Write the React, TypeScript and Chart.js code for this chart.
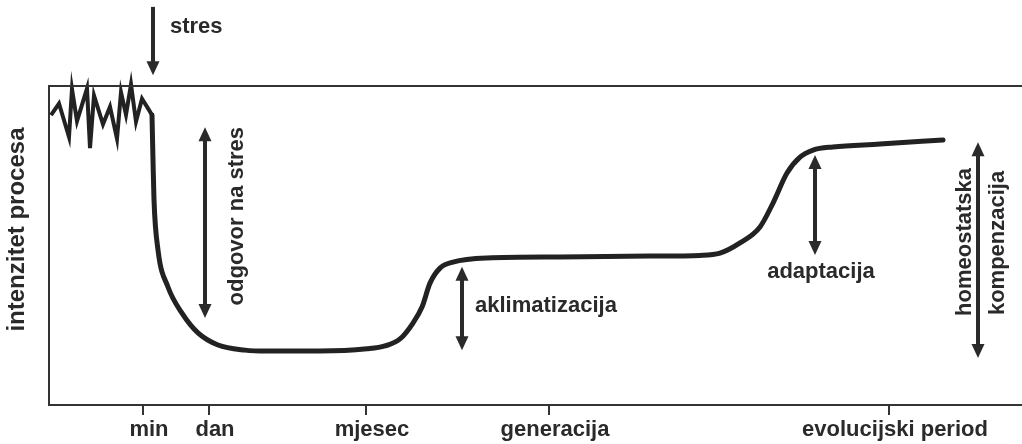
import React, { useEffect, useRef } from "react";
import { Chart, registerables } from "chart.js";

Chart.register(...registerables);

// time index (abstract units along the x axis) and process intensity (0-100)
const noiseX = [2, 10, 20, 23, 28, 38, 41, 45, 54, 61, 68, 72, 77, 82, 87, 93, 99, 103];
const noiseY = [90.9, 94.5, 84.0, 99.0, 89.0, 99.2, 80.5, 97.0, 88.0, 93.5, 83.5, 98.0, 91.0, 100.5, 88.8, 96.0, 93.0, 90.9];

const curveX = [103, 104, 105, 109, 119, 133, 149, 169, 196, 218, 271, 318, 336, 351, 364, 373, 381, 391, 404, 438, 511, 601, 651, 671, 691, 711, 724, 738, 751, 764, 784, 831, 894];
const curveY = [90.9, 76.8, 64.3, 48.6, 37.0, 28.8, 22.6, 18.8, 17.2, 16.9, 16.9, 17.6, 18.5, 20.7, 25.7, 30.7, 38.2, 42.9, 44.8, 46.1, 46.4, 46.7, 46.9, 47.6, 50.8, 55.8, 63.3, 72.7, 77.7, 79.9, 80.9, 81.8, 83.1];

const tickValues = [94, 160, 317, 500, 840];
const tickLabels = ["min", "dan", "mjesec", "generacija", "evolucijski period"];

const yTitle = "intenzitet procesa";

// annotation arrows: x, from y, to y, head at start, head at end
const arrowX = [104, 156, 413, 766, 929];
const arrowFrom = [124.8, 87.1, 43.3, 78.4, 82.4];
const arrowTo = [103.4, 27.3, 17.2, 47.0, 14.7];
const arrowHeadStart = [false, true, true, true, true];
const arrowHeadEnd = [true, true, true, true, true];

// annotation texts
const noteText = ["stres", "odgovor na stres", "aklimatizacija", "adaptacija", "homeostatska", "kompenzacija"];
const noteX = [121, 188, 426, 772, 916, 949];
const noteY = [118.5, 59.2, 31.0, 41.7, 51.1, 50.8];
const noteRotated = [false, true, false, false, true, true];
const noteAlign = ["left", "center", "left", "center", "center", "center"];

const INK = "#2a2a2a";
const FONT = '"Liberation Sans", Arial, Helvetica, sans-serif';

const annotationPlugin = {
  id: "annotations",
  beforeDatasetsDraw(chart: any) {
    chart.ctx.miterLimit = 14;
  },
  afterDraw(chart: any) {
    const { ctx, chartArea, scales } = chart;
    const xs = scales.x;
    const ys = scales.y;
    ctx.save();
    // top frame line
    ctx.strokeStyle = "#333";
    ctx.lineWidth = 2;
    ctx.beginPath();
    ctx.moveTo(chartArea.left - 1, chartArea.top);
    ctx.lineTo(chartArea.right, chartArea.top);
    ctx.stroke();

    // arrows
    ctx.fillStyle = INK;
    ctx.strokeStyle = INK;
    const headLen = 14;
    const headHalf = 6.5;
    for (let i = 0; i < arrowX.length; i++) {
      const px = xs.getPixelForValue(arrowX[i]);
      const p1 = ys.getPixelForValue(arrowFrom[i]);
      const p2 = ys.getPixelForValue(arrowTo[i]);
      const dir = p2 > p1 ? 1 : -1;
      const s = arrowHeadStart[i] ? p1 + dir * (headLen - 2) : p1;
      const e = arrowHeadEnd[i] ? p2 - dir * (headLen - 2) : p2;
      ctx.lineWidth = 4;
      ctx.lineCap = "butt";
      ctx.beginPath();
      ctx.moveTo(px, s);
      ctx.lineTo(px, e);
      ctx.stroke();
      if (arrowHeadEnd[i]) {
        ctx.beginPath();
        ctx.moveTo(px, p2);
        ctx.lineTo(px - headHalf, p2 - dir * headLen);
        ctx.lineTo(px + headHalf, p2 - dir * headLen);
        ctx.closePath();
        ctx.fill();
      }
      if (arrowHeadStart[i]) {
        ctx.beginPath();
        ctx.moveTo(px, p1);
        ctx.lineTo(px - headHalf, p1 + dir * headLen);
        ctx.lineTo(px + headHalf, p1 + dir * headLen);
        ctx.closePath();
        ctx.fill();
      }
    }

    // notes
    ctx.font = `bold 22px ${FONT}`;
    ctx.textBaseline = "middle";
    for (let i = 0; i < noteText.length; i++) {
      const px = xs.getPixelForValue(noteX[i]);
      const py = ys.getPixelForValue(noteY[i]);
      ctx.save();
      ctx.translate(px, py);
      if (noteRotated[i]) ctx.rotate(-Math.PI / 2);
      ctx.textAlign = noteAlign[i] as CanvasTextAlign;
      ctx.fillText(noteText[i], 0, 0);
      ctx.restore();
    }

    // y axis title
    ctx.save();
    ctx.font = `bold 24px ${FONT}`;
    ctx.translate(17, ys.getPixelForValue(55));
    ctx.rotate(-Math.PI / 2);
    ctx.textAlign = "center";
    ctx.fillText(yTitle, 0, 0);
    ctx.restore();

    ctx.restore();
  },
};

export default function App() {
  const canvasRef = useRef<HTMLCanvasElement | null>(null);

  useEffect(() => {
    if (!canvasRef.current) return;
    const chart = new Chart(canvasRef.current, {
      type: "line",
      data: {
        datasets: [
          {
            label: "noise",
            data: noiseX.map((x, i) => ({ x, y: noiseY[i] })),
            borderColor: "#222",
            borderWidth: 4,
            borderJoinStyle: "miter",
            pointRadius: 0,
            tension: 0,
            clip: false,
          } as any,
          {
            label: "curve",
            data: curveX.map((x, i) => ({ x, y: curveY[i] })),
            borderColor: "#222",
            borderWidth: 5,
            borderCapStyle: "round",
            pointRadius: 0,
            cubicInterpolationMode: "monotone",
            clip: false,
          } as any,
        ],
      },
      options: {
        animation: false,
        responsive: true,
        maintainAspectRatio: false,
        layout: { padding: { top: 86, left: 0, right: 0, bottom: 0 } },
        plugins: { legend: { display: false }, tooltip: { enabled: false } },
        scales: {
          x: {
            type: "linear",
            min: 0,
            max: 973,
            afterFit: (scale: any) => {
              scale.height = 39;
            },
            afterBuildTicks: (scale: any) => {
              scale.ticks = tickValues.map((v) => ({ value: v }));
            },
            ticks: {
              autoSkip: false,
              maxRotation: 0,
              padding: 2,
              labelOffset: 6,
              color: INK,
              font: { family: FONT, size: 22, weight: "bold" },
              callback: (value: any) => {
                const idx = tickValues.indexOf(Number(value));
                return idx >= 0 ? tickLabels[idx] : "";
              },
            },
            grid: {
              display: true,
              drawOnChartArea: false,
              drawTicks: true,
              tickLength: 10,
              color: "#333",
              lineWidth: 2,
            },
            border: { display: true, color: "#333", width: 2 },
          },
          y: {
            type: "linear",
            min: 0,
            max: 100,
            afterFit: (scale: any) => {
              scale.width = 49;
            },
            ticks: { display: false },
            grid: { display: false, drawTicks: false },
            border: { display: true, color: "#333", width: 2 },
          },
        },
      } as any,
      plugins: [annotationPlugin],
    });
    return () => chart.destroy();
  }, []);

  return (
    <div style={{ position: "fixed", left: 0, top: 0, width: 1022, height: 444, background: "#fff" }}>
      <canvas ref={canvasRef} />
    </div>
  );
}
